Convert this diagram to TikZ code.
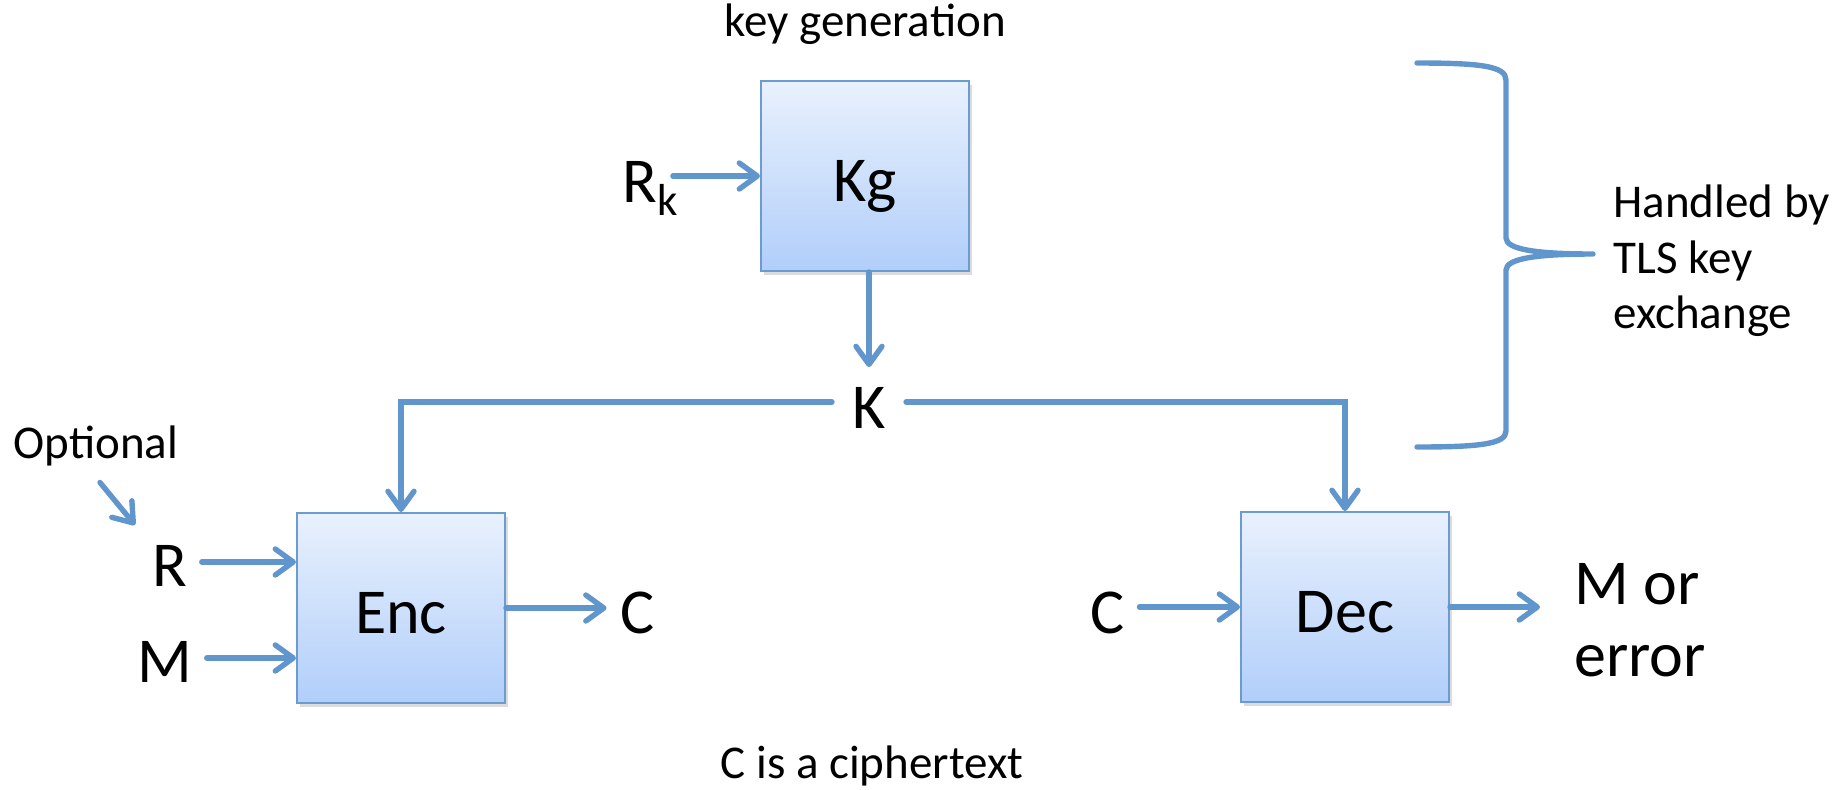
\documentclass[tikz,border=0pt]{standalone}
\usepackage{fontspec}
\setmainfont{Carlito}
\usetikzlibrary{arrows.meta,shadows}
\definecolor{lineblue}{RGB}{97,150,204}
\definecolor{boxtop}{RGB}{233,241,253}
\definecolor{boxbot}{RGB}{177,206,250}
\definecolor{boxedge}{RGB}{106,155,209}
\begin{document}
\begin{tikzpicture}[x=0.5pt,y=-0.5pt,
  blk/.style={draw=boxedge, line width=1pt, top color=boxtop, bottom color=boxbot,
    minimum width=104pt, minimum height=95pt, inner sep=0pt,
    font=\fontsize{32}{38}\selectfont, text height=32pt, text depth=6.4pt,
    drop shadow={opacity=0.28, shadow xshift=1.5pt, shadow yshift=-1.8pt}},
  lbl/.style={font=\fontsize{32}{36}\selectfont, inner sep=7pt},
  small/.style={font=\fontsize{23.5}{27.75}\selectfont, inner sep=0pt},
  conn/.style={draw=lineblue, line width=2.7pt, line cap=round,
    -{Straight Barb[length=9pt,width=13pt,round]}},
  plainline/.style={draw=lineblue, line width=2.7pt, line cap=round, line join=round}
]
\useasboundingbox (0,0) rectangle (1842,789);

% boxes
\node[blk] (kg)  at (865,176) {Kg};
\node[blk] (enc) at (401,608) {Enc};
\node[blk] (dec) at (1345,607) {Dec};

% texts
\node[small] (keygen) at (865,24) {key generation};
\node[small] (cipher) at (872,766) {C is a ciphertext};
\node[small] (opt) at (96,446) {Optional};
\node[small, align=left, anchor=west] (tls) at (1613,261) {Handled by\\TLS key\\exchange};

\node[lbl, inner sep=0pt, anchor=base west] (rk) at (622,202) {R\textsubscript{k}};
\node[lbl, inner sep=10pt] (k) at (869,408) {K};
\node[lbl] (r) at (170,566) {R};
\node[lbl] (m) at (165,662) {M};
\node[lbl] (c1) at (638,613) {C};
\node[lbl] (c2) at (1108,613) {C};
\node[lbl, inner sep=0pt, align=left, anchor=west] (mor) at (1574,620) {M or\\error};

% connectors
\draw[conn] ([xshift=-3pt]rk.east |- kg.west) -- (kg.west);
\draw[conn] (kg.south -| k.north) -- (k.north);
\draw[conn] ([yshift=3pt]k.west) -| (enc.north);
\draw[conn] ([yshift=3pt]k.east) -| (dec.north);
\draw[conn] ([yshift=2pt]r.east) -- ([yshift=2pt]r.east -| enc.west);
\draw[conn] ([yshift=2pt]m.east) -- ([yshift=2pt]m.east -| enc.west);
\draw[conn] (enc.east) -- (c1.west |- enc.east);
\draw[conn] (c2.east |- dec.west) -- (dec.west);
\draw[conn] (dec.east) -- ([xshift=-17pt]mor.west |- dec.east);
\coordinate (opttip) at (135,525);
\draw[conn] ([xshift=2pt,yshift=-8pt]opt.south) -- (opttip);

% brace
\draw[plainline] (1417,63) .. controls (1480,63) and (1506,66) .. (1506,80)
  -- (1506,238) .. controls (1506,250) and (1540,254) .. (1593,254)
  .. controls (1540,254) and (1506,258) .. (1506,270)
  -- (1506,431) .. controls (1506,444) and (1480,447) .. (1417,447);
\end{tikzpicture}
\end{document}
